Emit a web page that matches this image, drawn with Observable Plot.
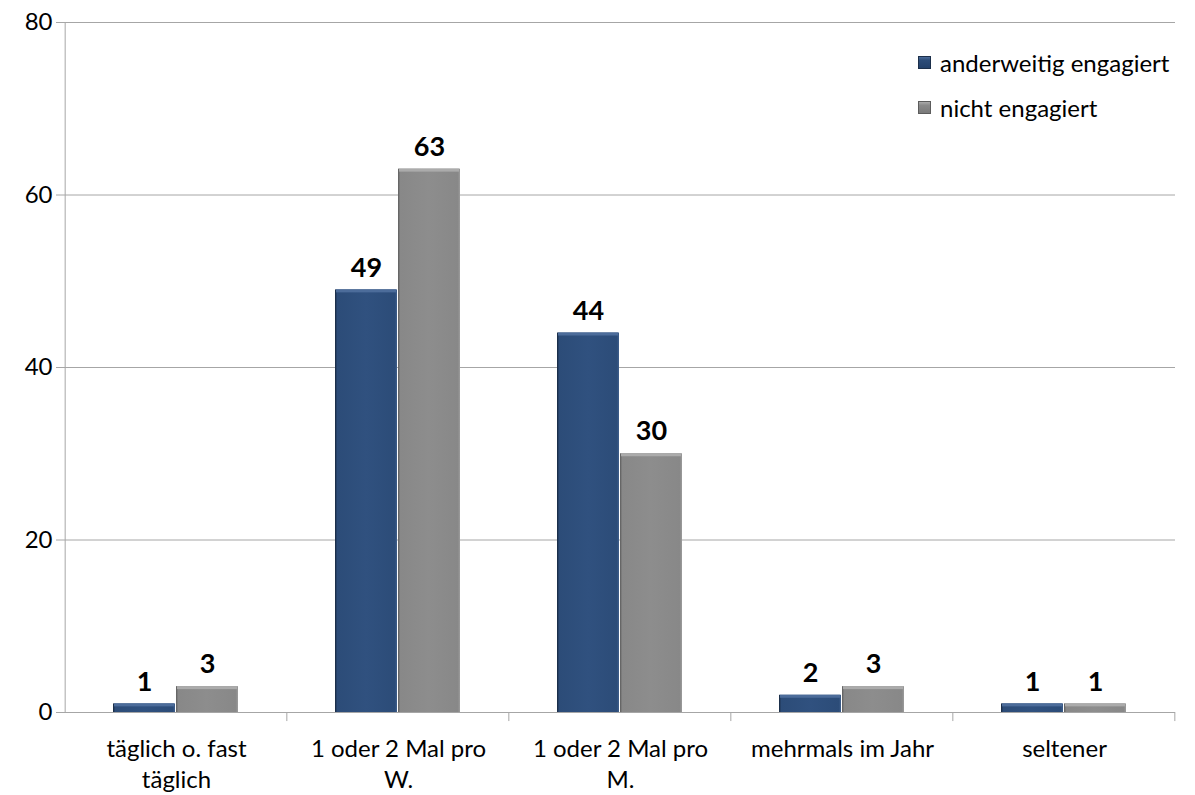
<!DOCTYPE html>
<html><head><meta charset="utf-8">
<script src="https://cdn.jsdelivr.net/npm/d3@7"></script>
<script src="https://cdn.jsdelivr.net/npm/@observablehq/plot@0.6"></script>
<style>
body{margin:0;background:#fff;font-family:Lato,"Open Sans",sans-serif;}
#wrap{position:relative;width:1195px;height:795px;}
.legend{position:absolute;left:918px;top:46px;font-size:24px;color:#000;}
.legend .item{display:flex;align-items:center;height:32px;margin-bottom:13px;}
.legend .sw{width:13px;height:13px;margin-right:9px;box-sizing:border-box;}
</style></head>
<body><div id="wrap"></div>
<script>
const categories = ["täglich o. fast\ntäglich", "1 oder 2 Mal pro\nW.", "1 oder 2 Mal pro\nM.", "mehrmals im Jahr", "seltener"];
const series = ["anderweitig engagiert", "nicht engagiert"];
const anderweitig = [1, 49, 44, 2, 1];
const nichtEngagiert = [3, 63, 30, 3, 1];
const yTicks = [0, 20, 40, 60, 80];

const rows = [];
categories.forEach((c, i) => {
  rows.push({cat: c, series: series[0], value: anderweitig[i]});
  rows.push({cat: c, series: series[1], value: nichtEngagiert[i]});
});
const gridRows = [];
categories.forEach(c => yTicks.forEach(v => gridRows.push({cat: c, v})));

const W = 1195, H = 795, mL = 65, mR = 20, mT = 22, mB = 83;
const po = 0.76, pi = 0.015;
const facetW = (W - mL - mR) / categories.length;
const step = facetW / (series.length - pi + 2 * po);
const bw = step * (1 - pi);
const leftOff = po * step + bw / 2;
const rightOff = facetW - (po * step + step + bw / 2);
const gridColor = "#a6a6a6";

const svg = Plot.plot({
  width: W, height: H,
  marginLeft: mL, marginRight: mR, marginTop: mT, marginBottom: mB,
  style: {fontFamily: "Lato, 'Open Sans', sans-serif", background: "#fff", overflow: "visible"},
  fx: {domain: categories, padding: 0, axis: null},
  x: {domain: series, paddingOuter: po, paddingInner: pi, axis: null},
  y: {domain: [0, 80], axis: null},
  marks: [
    Plot.ruleY(gridRows.filter(d => d.cat === categories[0]), {fx: "cat", y: "v", stroke: gridColor, strokeWidth: 1, insetLeft: -9}),
    Plot.ruleY(gridRows.filter(d => d.cat !== categories[0]), {fx: "cat", y: "v", stroke: gridColor, strokeWidth: 1}),
    Plot.ruleX([categories[0]], {fx: d => d, x: () => series[0], dx: -leftOff, y1: 0, y2: 80, stroke: gridColor}),
    Plot.ruleX(categories, {fx: d => d, x: () => series[1], dx: rightOff, y1: 0, y2: -1.05, stroke: gridColor}),
    Plot.axisY({ticks: yTicks, tickSize: 0, tickPadding: 13, fontSize: 24, fill: "#000", anchor: "left", label: null}),
    Plot.axisFx({anchor: "bottom", tickSize: 0, tickPadding: 23, fontSize: 24, lineHeight: 1.27, fill: "#000", label: null}),
    Plot.barY(rows.filter(d => d.series === series[0]), {fx: "cat", x: "series", y: "value", fill: "url(#gBlue)"}),
    Plot.barY(rows.filter(d => d.series === series[1]), {fx: "cat", x: "series", y: "value", fill: "url(#gGray)"}),
    Plot.barY(rows.filter(d => d.series === series[0]), {fx: "cat", x: "series", y1: "value", y2: "value", insetBottom: -3, insetLeft: 1, insetRight: 1, fill: "#4c6c9a"}),
    Plot.barY(rows.filter(d => d.series === series[1]), {fx: "cat", x: "series", y1: "value", y2: "value", insetBottom: -3, insetLeft: 1, insetRight: 1, fill: "#ababab"}),
    Plot.text(rows, {fx: "cat", x: "series", y: "value", text: d => String(d.value), dy: -22, fontSize: 27, fontWeight: "bold", fill: "#000"})
  ]
});

const ns = "http://www.w3.org/2000/svg";
const defs = document.createElementNS(ns, "defs");
defs.innerHTML = `
<linearGradient id="gBlue" x1="0" x2="1" y1="0" y2="0">
  <stop offset="0" stop-color="#16263d"/><stop offset="0.035" stop-color="#2c4c78"/>
  <stop offset="0.5" stop-color="#30517f"/><stop offset="0.965" stop-color="#2c4c78"/>
  <stop offset="1" stop-color="#3f5f8c"/>
</linearGradient>
<linearGradient id="gGray" x1="0" x2="1" y1="0" y2="0">
  <stop offset="0" stop-color="#5c5c5c"/><stop offset="0.035" stop-color="#888888"/>
  <stop offset="0.5" stop-color="#8d8d8d"/><stop offset="0.965" stop-color="#888888"/>
  <stop offset="1" stop-color="#9c9c9c"/>
</linearGradient>`;
svg.insertBefore(defs, svg.firstChild);

const wrap = document.getElementById("wrap");
wrap.appendChild(svg);

const legend = document.createElement("div");
legend.className = "legend";
const swatches = [
  {label: series[0], bg: "linear-gradient(#4c6c9a, #2c4c78 30%, #23406a)", border: "#1c2f4a"},
  {label: series[1], bg: "linear-gradient(#ababab, #8a8a8a 30%, #7a7a7a)", border: "#5c5c5c"}
];
swatches.forEach(s => {
  const it = document.createElement("div");
  it.className = "item";
  const sw = document.createElement("span");
  sw.className = "sw";
  sw.style.background = s.bg;
  sw.style.border = "1px solid " + s.border;
  const t = document.createElement("span");
  t.textContent = s.label;
  it.appendChild(sw); it.appendChild(t);
  legend.appendChild(it);
});
wrap.appendChild(legend);
</script>
</body></html>
